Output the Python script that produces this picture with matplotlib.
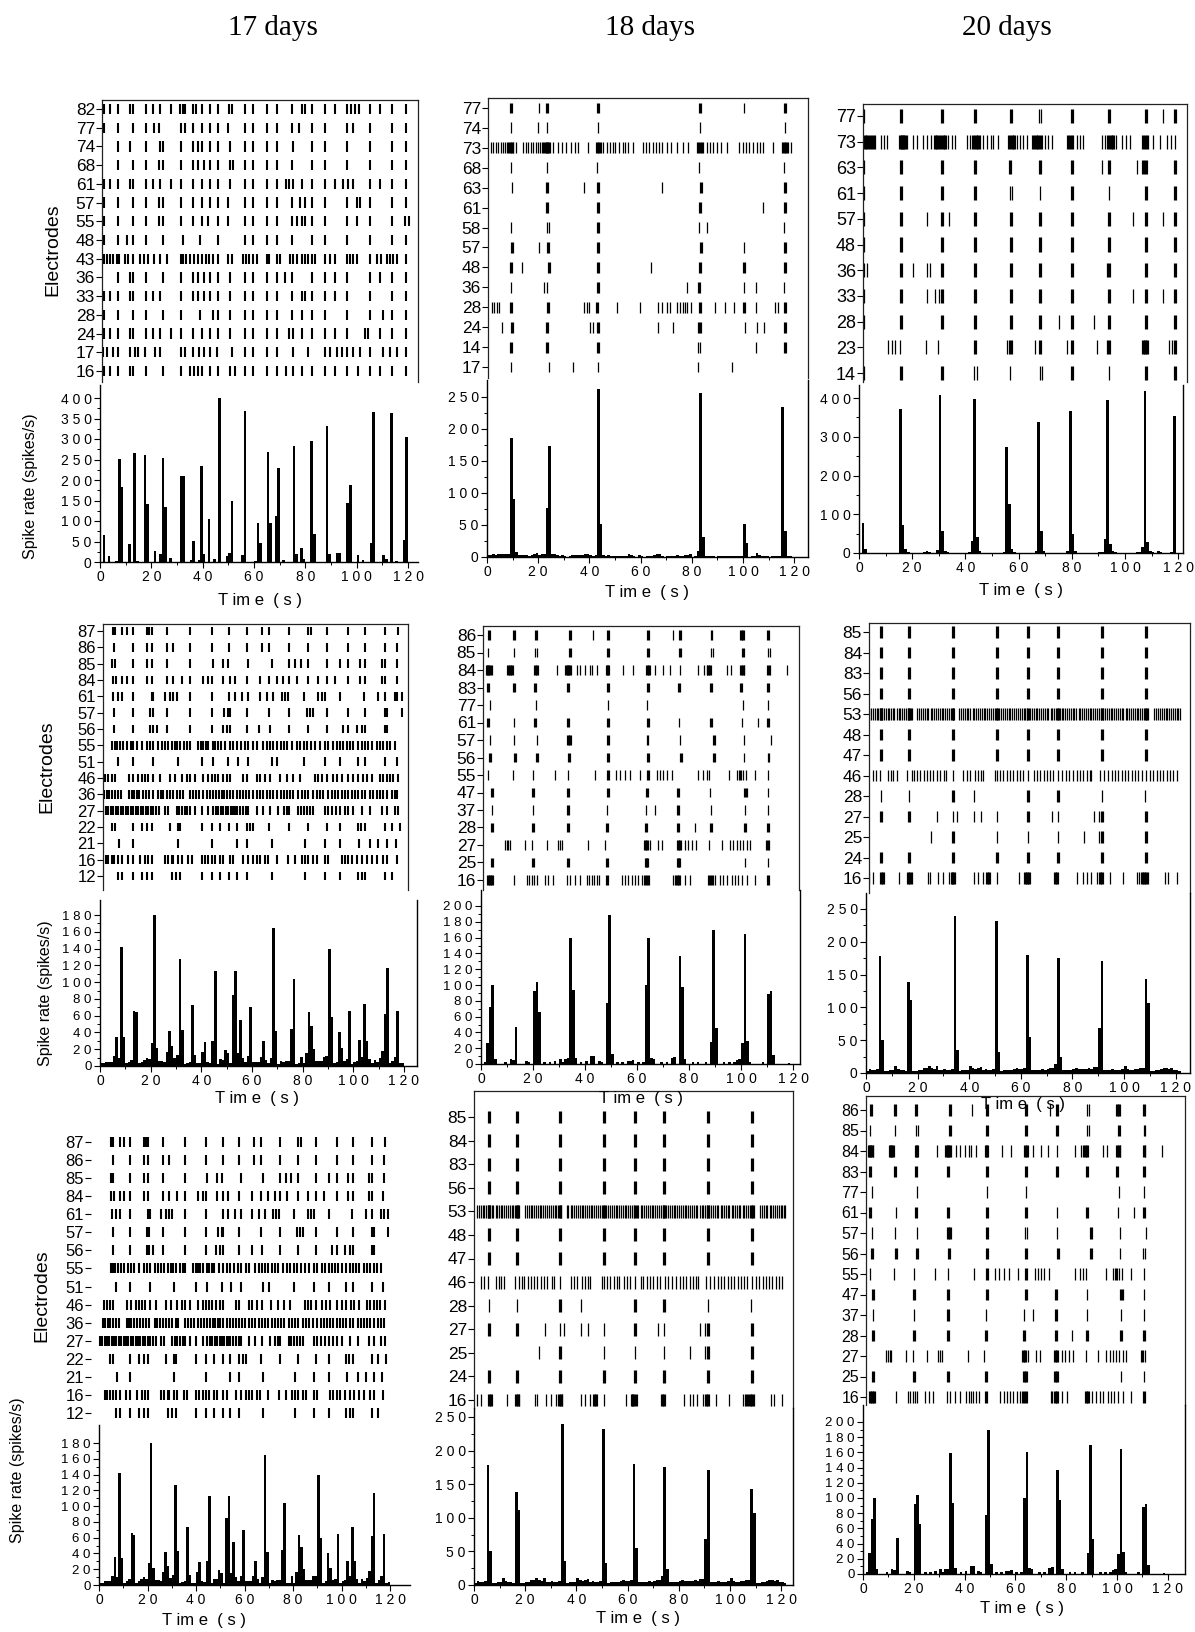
import matplotlib
matplotlib.use("Agg")
import matplotlib.pyplot as plt
import numpy as np
from matplotlib.ticker import MultipleLocator, FixedLocator, FuncFormatter

plt.rcParams["font.family"] = ["Liberation Sans", "DejaVu Sans"]

# ── Data ─────────────────────────────────────────────────────────────────────
days = ["17 days", "18 days", "20 days"]

# 17 days, culture A (all spikes drawn the same)
p1_labels = ["82", "77", "74", "68", "61", "57", "55", "48", "43", "36", "33", "28", "24", "17", "16"]
p1_spikes = [
    [1.7, 3.9, 7.1, 11.7, 12.7, 17.8, 20.8, 23.4, 27.7, 31.2, 32.2, 33.2, 36.1, 37.4, 39.6, 42.9, 46.1, 50.4, 51.4,
     56.5, 59.7, 64.9, 68.8, 74.7, 78.6, 79.9, 82.5, 87.7, 91.6, 96.1, 97.8, 99.4, 101.0, 105.2, 109.1, 113.6, 119.2],
    [1.6, 7.1, 13.0, 17.8, 21.2, 23.1, 31.6, 33.2, 36.1, 39.6, 42.9, 46.1, 49.7, 56.5, 59.7, 64.9, 68.8, 74.7, 77.7,
     82.5, 87.7, 96.1, 98.7, 105.2, 113.6, 119.2],
    [7.1, 11.7, 17.8, 23.4, 24.4, 31.6, 36.1, 38.3, 39.6, 42.9, 46.1, 50.6, 56.5, 59.7, 64.9, 68.8, 75.1, 82.5, 87.7,
     96.1, 105.2, 113.6, 119.2],
    [7.1, 13.0, 17.8, 23.1, 24.4, 31.6, 36.1, 38.3, 40.5, 42.9, 46.1, 50.6, 51.7, 56.5, 59.7, 64.9, 68.8, 74.7, 82.5,
     87.7, 96.1, 105.2, 113.6, 119.2],
    [1.7, 3.9, 7.1, 11.7, 13.0, 17.8, 20.8, 23.4, 27.7, 31.6, 36.1, 39.6, 42.9, 46.1, 50.6, 56.5, 59.7, 64.9, 68.8,
     72.5, 73.8, 75.1, 78.6, 82.5, 87.7, 91.6, 94.8, 96.8, 98.7, 105.2, 109.1, 113.6, 119.2],
    [1.6, 7.1, 13.0, 17.8, 23.1, 24.4, 31.6, 36.1, 39.6, 42.9, 46.1, 50.0, 56.5, 59.7, 64.9, 68.8, 74.7, 77.9, 79.9,
     82.5, 87.7, 96.1, 100.0, 101.3, 105.2, 113.6, 119.2],
    [1.6, 7.1, 13.0, 17.8, 23.1, 24.7, 31.6, 36.1, 39.6, 42.2, 46.1, 50.0, 56.5, 59.7, 64.9, 68.8, 74.7, 76.6, 78.6,
     79.9, 82.5, 87.7, 96.1, 100.0, 105.2, 113.6, 118.8, 120.5],
    [1.7, 7.1, 10.4, 13.0, 17.8, 24.7, 32.2, 39.0, 46.1, 56.5, 59.7, 64.9, 68.8, 74.7, 82.5, 87.7, 96.1, 105.2, 113.6,
     119.2],
    [1.6, 2.6, 3.9, 5.2, 6.5, 7.5, 9.7, 11.0, 12.7, 15.6, 17.1, 18.8, 21.2, 23.4, 26.0, 31.6, 32.5, 33.5, 35.1, 36.8,
     38.3, 39.6, 41.3, 42.6, 44.2, 46.1, 50.0, 51.3, 55.8, 56.9, 58.2, 59.7, 61.3, 64.9, 66.0, 68.8, 70.1, 74.0,
     75.1, 76.6, 78.6, 79.9, 81.2, 82.5, 83.8, 87.7, 89.6, 91.6, 96.1, 97.4, 98.7, 100.0, 105.2, 107.8, 109.5,
     111.7, 113.0, 114.3, 115.6, 119.2],
    [7.1, 11.7, 13.0, 17.8, 24.7, 31.6, 36.1, 38.3, 40.5, 42.9, 46.1, 50.6, 56.5, 59.7, 64.9, 68.8, 72.1, 74.7, 82.5,
     87.7, 91.6, 96.1, 105.2, 109.1, 113.6, 119.2],
    [1.6, 3.9, 7.1, 11.7, 13.0, 17.8, 20.8, 23.4, 31.6, 36.1, 38.3, 40.5, 42.9, 46.1, 50.6, 56.5, 59.7, 64.9, 68.8,
     74.7, 78.6, 79.9, 82.5, 87.7, 91.6, 96.1, 105.2, 113.6, 119.2],
    [1.6, 7.1, 13.0, 17.8, 24.7, 31.6, 39.0, 44.2, 46.1, 50.6, 56.5, 59.7, 64.9, 68.8, 74.7, 78.6, 82.5, 87.7, 96.1,
     105.2, 110.4, 113.6, 119.2],
    [1.6, 3.9, 7.1, 11.7, 13.0, 17.8, 20.8, 23.4, 27.7, 31.6, 36.1, 39.6, 42.9, 46.1, 50.6, 56.5, 59.7, 64.9, 68.8,
     73.8, 75.1, 78.6, 82.5, 87.7, 91.6, 96.1, 103.2, 104.5, 109.1, 113.6, 119.2],
    [1.3, 2.6, 5.2, 7.1, 11.7, 13.6, 14.9, 17.5, 21.4, 23.4, 31.6, 33.2, 36.1, 38.7, 40.5, 42.9, 45.5, 51.3, 56.5,
     59.7, 64.9, 68.8, 75.3, 81.2, 87.7, 89.6, 92.2, 94.2, 96.1, 98.7, 101.3, 105.2, 110.4, 113.0, 115.6, 119.2],
    [1.7, 3.9, 7.1, 11.7, 13.0, 17.8, 24.7, 31.6, 35.1, 36.8, 38.3, 39.6, 42.9, 46.1, 50.6, 52.6, 56.5, 59.7, 64.9,
     68.8, 72.5, 75.3, 78.6, 82.5, 87.7, 91.6, 96.1, 100.6, 105.2, 109.1, 113.6, 119.2],
]
p1_rate = [0, 67, 0, 14, 0, 0, 3, 251, 184, 0, 0, 43, 0, 267, 3, 0, 0, 261, 141, 0,
           0, 26, 0, 19, 254, 133, 0, 10, 0, 0, 0, 210, 210, 0, 0, 4, 51, 0, 4, 234,
           20, 0, 106, 0, 7, 0, 400, 0, 0, 15, 23, 149, 0, 0, 0, 16, 369, 0, 0, 0,
           3, 96, 47, 0, 0, 269, 94, 0, 113, 229, 0, 4, 0, 0, 0, 284, 20, 0, 33, 7,
           0, 0, 296, 69, 0, 0, 0, 0, 331, 20, 0, 0, 23, 23, 0, 0, 145, 189, 0, 0,
           16, 0, 4, 0, 0, 47, 366, 0, 0, 0, 18, 7, 0, 364, 0, 3, 0, 0, 53, 305, 0]

# 18 days, culture A
p2_labels = ["77", "74", "73", "68", "63", "61", "58", "57", "48", "36", "28", "24", "14", "17"]
p2_thick = [
    [9.4, 23.6, 43.5, 83.2, 116.4],
    [],
    [9.0, 9.6, 22.7, 23.3, 23.9, 43.1, 43.8, 83.2, 116.0, 116.8],
    [],
    [23.6, 43.5, 83.6, 116.4],
    [23.3, 43.5, 83.2, 116.4],
    [43.5],
    [9.6, 24.0, 43.5, 83.5, 116.4],
    [9.4, 24.2, 43.5, 83.2, 100.4, 116.4],
    [43.5, 82.9],
    [9.4, 24.0, 42.8, 83.2, 100.4, 116.4],
    [9.6, 23.6, 43.5, 83.2, 116.4],
    [9.4, 23.6, 43.5, 116.4],
    [],
]
p2_thin = [
    [20.3, 100.4],
    [9.4, 20.1, 23.6, 43.5, 83.2, 116.4],
    [1.6, 2.5, 3.5, 4.4, 5.5, 6.4, 7.0, 7.7, 8.3, 10.3, 11.3, 14.2, 15.2, 16.1, 17.1, 18.1, 19.0, 20.1, 20.7, 21.4,
     22.0, 24.6, 25.9, 27.9, 29.2, 30.9, 32.7, 34.4, 35.7, 39.6, 44.5, 45.4, 46.7, 48.0, 49.3, 50.0, 51.6, 53.0,
     53.9, 55.2, 57.2, 60.8, 62.1, 63.4, 65.0, 66.0, 67.3, 68.2, 70.2, 71.7, 74.3, 76.4, 78.6, 81.9, 82.6, 83.9,
     84.5, 85.8, 87.1, 88.4, 89.7, 91.4, 93.9, 98.6, 99.9, 101.2, 102.5, 103.8, 105.3, 106.6, 107.9, 111.8, 115.1,
     117.7, 118.8],
    [9.4, 23.6, 43.1, 82.9, 116.0],
    [9.9, 37.9, 68.2],
    [107.9],
    [9.4, 23.6, 24.4, 82.9, 85.8, 116.1],
    [20.3, 100.4],
    [13.5, 63.9],
    [9.4, 22.3, 23.3, 78.0, 100.5, 105.1, 116.1],
    [1.8, 2.7, 3.8, 4.8, 37.9, 38.9, 40.0, 50.9, 59.8, 66.7, 68.2, 70.2, 71.5, 74.3, 75.4, 76.4, 77.3, 78.3, 79.7,
     89.1, 93.0, 96.5, 105.1, 112.5, 113.8],
    [5.7, 40.2, 41.3, 66.9, 72.8, 82.3, 100.8, 105.3, 108.2],
    [82.3, 83.2, 105.1],
    [9.3, 24.2, 33.7, 43.5, 82.3, 95.6],
]
p2_rate = [3, 3, 4, 3, 4, 4, 4, 5, 4, 186, 91, 8, 3, 3, 3, 3, 2, 3, 5, 7,
           3, 4, 5, 76, 174, 5, 4, 3, 2, 3, 2, 0, 2, 3, 3, 3, 3, 3, 4, 4,
           3, 2, 3, 262, 52, 3, 2, 3, 2, 2, 2, 2, 2, 2, 2, 4, 3, 2, 0, 3,
           2, 0, 2, 2, 2, 3, 4, 5, 2, 0, 2, 2, 2, 2, 3, 2, 2, 3, 3, 4,
           0, 2, 10, 256, 31, 2, 2, 2, 2, 0, 2, 2, 2, 2, 2, 2, 2, 1, 2, 2,
           51, 22, 0, 2, 2, 6, 3, 2, 2, 1, 0, 2, 2, 2, 2, 235, 41, 2, 1, 0]

# 20 days, culture A
p3_labels = ["77", "73", "63", "61", "57", "48", "36", "33", "28", "23", "14"]
p3_bursts = [15.7, 31.1, 43.6, 57.0, 68.0, 80.0, 94.1, 107.9, 118.8]
p3_thick = [
    p3_bursts[:4] + p3_bursts[5:],
    [2.3, 3.1, 4.1, 5.1, 15.4, 16.0, 16.7, 17.3, 28.6, 29.4, 30.5, 31.5, 32.5, 43.0, 43.9, 44.9, 56.5, 57.4, 58.3,
     65.5, 66.4, 67.4, 68.3, 78.7, 79.6, 93.7, 94.6, 95.6, 106.9, 107.8],
    [15.7, 31.1, 43.6, 56.8, 68.0, 80.0, 94.1, 106.9, 107.9, 118.8],
    [15.7, 31.1, 43.6, 80.0, 107.9, 118.8],
    p3_bursts,
    p3_bursts,
    p3_bursts,
    p3_bursts,
    p3_bursts,
    [43.6, 57.0, 68.0, 80.0, 94.1, 106.9, 107.5, 108.1, 118.8],
    [15.7, 31.1, 80.0, 107.9, 118.8],
]
p3_thin = [
    [1.9, 67.7, 68.3, 114.2],
    [6.0, 8.1, 9.4, 10.4, 18.2, 20.4, 21.9, 24.2, 25.7, 26.9, 33.6, 34.8, 36.1, 40.5, 41.7, 45.5, 46.7, 48.2, 49.5,
     50.5, 52.4, 59.3, 60.5, 61.8, 63.0, 69.9, 71.2, 72.7, 80.6, 81.8, 83.1, 84.3, 91.2, 92.5, 96.6, 98.7, 100.4,
     101.9, 108.8, 110.7, 113.2, 115.7, 117.2, 118.8],
    [1.9, 91.2, 104.4],
    [1.9, 56.8, 57.4, 68.0, 94.1],
    [1.9, 25.7, 34.0, 103.1, 114.2],
    [1.9],
    [1.9, 2.9, 20.2, 25.7, 26.7, 93.4],
    [1.9, 25.7, 28.6, 30.2, 103.1, 114.2],
    [1.9, 75.3, 88.3],
    [11.0, 12.3, 13.5, 15.4, 25.2, 29.8, 55.5, 56.5, 66.2, 78.1, 89.3, 93.1, 116.7, 117.5],
    [1.9, 43.2, 44.2, 56.8, 68.0, 68.9, 94.1],
]
p3_rate = [0, 77, 10, 1, 1, 0, 0, 0, 1, 1, 1, 0, 1, 1, 0, 372, 73, 10, 3, 1,
           1, 0, 1, 1, 3, 5, 3, 1, 1, 8, 409, 58, 5, 2, 1, 1, 1, 0, 1, 1,
           1, 2, 30, 397, 42, 5, 1, 1, 0, 1, 1, 0, 1, 1, 3, 274, 127, 10, 3, 1,
           1, 0, 1, 1, 1, 1, 5, 337, 56, 5, 1, 1, 1, 0, 1, 1, 1, 1, 5, 367,
           49, 5, 1, 1, 1, 0, 1, 1, 1, 1, 2, 3, 37, 394, 23, 5, 2, 1, 1, 0,
           1, 1, 1, 1, 2, 3, 15, 419, 28, 5, 2, 1, 5, 3, 1, 1, 1, 3, 353, 1, 0]

# 17 days, culture B (also bottom-left)
p4_labels = ["87", "86", "85", "84", "61", "57", "56", "55", "51", "46", "36", "27", "22", "21", "16", "12"]
p4_spikes = [
    [5.0, 5.9, 8.6, 10.5, 12.9, 18.4, 19.5, 20.4, 26.3, 35.5, 44.1, 51.1, 57.9, 63.8, 66.8, 74.7, 82.2, 83.2, 89.5,
     98.0, 104.6, 112.5, 117.8],
    [5.7, 12.9, 18.4, 20.4, 26.3, 28.9, 35.5, 44.1, 51.1, 57.9, 63.8, 66.8, 74.7, 82.2, 89.5, 98.0, 104.6, 112.5,
     117.4],
    [4.9, 5.9, 12.9, 18.4, 20.4, 26.3, 35.5, 44.7, 48.7, 50.7, 58.6, 67.8, 74.7, 77.0, 79.3, 82.2, 89.5, 94.7, 98.0,
     102.6, 104.6, 111.2, 112.5, 117.4],
    [5.0, 6.3, 8.6, 10.5, 12.9, 18.4, 20.4, 26.3, 28.9, 32.2, 35.5, 40.8, 42.8, 44.1, 48.7, 51.3, 53.3, 57.9, 63.2,
     66.8, 69.7, 72.4, 74.7, 77.6, 82.2, 86.2, 89.5, 92.8, 98.0, 102.6, 104.6, 111.2, 112.5, 117.1],
    [5.3, 7.2, 8.6, 12.9, 20.4, 21.1, 25.7, 27.6, 28.9, 30.3, 35.5, 44.1, 51.1, 53.3, 55.9, 58.6, 63.2, 65.8, 68.4,
     71.7, 73.0, 74.3, 80.5, 86.2, 87.5, 88.8, 94.7, 104.3, 109.9, 112.5, 116.4, 117.4, 119.1],
    [5.7, 12.9, 19.7, 20.8, 26.3, 35.5, 44.1, 48.9, 50.7, 51.3, 57.9, 66.8, 74.7, 81.8, 82.9, 84.2, 89.5, 98.0,
     104.6, 112.5, 113.2, 119.1],
    [5.7, 12.9, 19.7, 20.8, 22.4, 26.3, 35.5, 44.1, 48.4, 50.0, 51.3, 57.9, 62.9, 67.1, 74.7, 82.2, 89.5, 96.1,
     98.0, 101.3, 103.3, 104.6, 112.5, 113.2],
    [4.9, 5.9, 6.8, 7.9, 9.2, 10.5, 12.1, 13.2, 14.5, 16.4, 18.4, 19.7, 21.1, 23.0, 24.3, 25.7, 27.0, 28.3, 29.6,
     30.5, 31.6, 33.2, 34.5, 35.5, 38.8, 39.9, 40.8, 41.8, 42.8, 44.5, 45.4, 46.7, 47.6, 49.3, 51.3, 52.6, 53.9,
     55.5, 57.2, 58.6, 60.5, 61.8, 64.5, 65.8, 67.1, 68.4, 69.7, 71.3, 72.6, 73.9, 75.7, 77.6, 78.9, 80.5, 81.8,
     83.2, 84.9, 86.8, 88.8, 90.1, 92.1, 93.4, 94.7, 96.1, 97.4, 98.7, 100.0, 102.0, 103.3, 104.6, 105.9, 107.2,
     109.2, 110.5, 111.8, 113.2, 114.5, 116.4],
    [7.2, 12.9, 21.1, 30.9, 40.1, 44.7, 50.7, 54.6, 58.6, 67.8, 70.0, 80.5, 88.8, 94.7, 102.0, 104.6, 112.5, 117.1],
    [2.0, 3.3, 4.6, 5.9, 11.6, 13.2, 15.1, 16.4, 17.8, 19.1, 21.1, 23.7, 27.6, 29.6, 32.2, 34.2, 35.5, 37.5, 40.8,
     42.8, 44.1, 45.4, 46.7, 48.4, 50.0, 51.3, 56.3, 57.9, 61.8, 63.2, 65.1, 67.1, 71.1, 73.7, 76.3, 78.9, 84.9,
     86.2, 87.5, 89.5, 92.1, 93.7, 95.4, 98.0, 100.0, 102.0, 103.9, 105.3, 107.2, 110.5, 111.8, 113.2, 114.5,
     115.8, 117.8],
    [1.6, 2.6, 3.7, 4.6, 5.9, 7.2, 8.2, 11.6, 12.5, 13.4, 14.5, 15.5, 16.8, 18.2, 19.5, 20.8, 23.0, 23.9, 25.0,
     26.3, 27.6, 28.9, 30.3, 31.6, 32.6, 35.5, 36.6, 37.9, 39.2, 40.8, 42.1, 43.4, 44.7, 45.8, 47.1, 48.0, 48.9,
     50.0, 51.3, 52.6, 53.9, 55.3, 56.3, 57.6, 58.9, 60.3, 61.8, 63.2, 64.5, 65.8, 67.1, 68.4, 69.7, 71.3, 72.6,
     73.7, 75.0, 76.3, 78.3, 79.6, 80.9, 82.2, 84.2, 85.5, 86.8, 88.2, 90.1, 91.4, 92.8, 94.1, 95.4, 96.7, 98.0,
     99.3, 100.7, 102.0, 103.3, 104.6, 106.6, 107.9, 109.2, 110.5, 111.8, 113.2, 115.1, 116.4, 117.4],
    [0.3, 1.3, 2.4, 3.3, 4.3, 5.3, 6.3, 7.2, 8.2, 9.2, 10.3, 11.2, 12.1, 13.2, 14.2, 15.1, 16.2, 17.1, 18.2, 19.1,
     20.0, 21.1, 22.1, 23.4, 25.7, 27.0, 30.3, 31.3, 32.2, 33.6, 34.5, 35.5, 37.5, 40.1, 42.8, 44.7, 45.8, 46.7,
     47.8, 48.7, 49.7, 50.7, 51.7, 52.6, 53.3, 54.2, 55.3, 56.3, 57.6, 58.6, 61.8, 64.5, 67.1, 70.4, 72.6, 73.7,
     74.7, 78.3, 79.3, 80.5, 81.6, 82.9, 84.2, 88.8, 90.1, 91.4, 93.2, 94.7, 96.7, 98.0, 100.0, 103.3, 106.6,
     111.2, 113.2, 116.4, 117.8],
    [4.6, 5.9, 12.9, 16.4, 18.4, 20.4, 27.6, 30.9, 31.6, 40.1, 44.1, 47.4, 51.1, 53.9, 57.9, 59.2, 60.5, 66.8, 74.7,
     82.2, 89.5, 94.7, 102.0, 102.9, 104.6, 112.5, 115.1, 118.4],
    [7.6, 12.9, 30.9, 44.1, 53.9, 57.9, 67.8, 80.9, 88.8, 94.7, 102.4, 106.6, 109.9, 113.2, 116.8],
    [2.4, 3.3, 4.6, 5.7, 7.2, 8.6, 11.2, 12.9, 15.8, 17.8, 19.1, 20.4, 25.7, 27.0, 28.3, 28.9, 30.9, 32.2, 34.9,
     36.2, 40.1, 41.4, 42.8, 44.1, 45.4, 47.4, 48.7, 51.3, 52.6, 56.6, 58.6, 60.5, 61.8, 63.2, 65.1, 66.4, 69.7,
     74.3, 77.0, 79.6, 80.9, 82.2, 84.2, 85.5, 88.8, 90.1, 95.4, 96.7, 98.0, 99.3, 101.3, 103.3, 105.3, 107.2,
     109.2, 111.8, 113.2, 117.1],
    [7.2, 8.6, 12.9, 16.4, 18.4, 20.4, 28.3, 30.0, 31.6, 40.1, 44.1, 47.4, 51.1, 53.9, 57.9, 67.8, 80.9, 88.8, 94.7,
     102.0, 103.3, 104.6, 112.5, 115.1],
]
p4_rate = [3, 3, 5, 5, 5, 12, 35, 10, 142, 34, 3, 5, 7, 66, 64, 3, 5, 7, 10, 8,
           28, 180, 22, 6, 6, 5, 17, 42, 24, 9, 13, 127, 43, 2, 4, 5, 73, 13, 3, 3,
           17, 29, 5, 4, 30, 113, 2, 8, 7, 19, 15, 3, 85, 113, 15, 55, 10, 5, 12, 70,
           5, 5, 5, 11, 30, 7, 3, 10, 165, 42, 2, 6, 5, 6, 6, 44, 104, 2, 3, 11,
           3, 16, 64, 48, 20, 6, 6, 6, 11, 12, 140, 59, 3, 5, 40, 22, 6, 8, 65, 2,
           5, 6, 31, 11, 74, 30, 8, 3, 7, 5, 9, 18, 62, 117, 3, 6, 11, 65, 3, 4, 0]

# 18 days, culture B (also bottom-right)
p5_labels = ["86", "85", "84", "83", "77", "61", "57", "56", "55", "47", "37", "28", "27", "25", "16"]
p5_thick = [
    [3.2, 12.7, 21.0, 34.2, 48.7, 64.1, 76.5, 100.0, 100.9, 110.5],
    [34.2, 48.7, 64.1, 76.5, 100.9],
    [2.2, 2.8, 3.5, 10.5, 11.2, 11.8, 20.8, 21.4, 32.7, 33.3, 34.0, 48.3, 49.0, 63.7, 64.5, 87.4, 88.1, 100.0,
     100.6, 110.5],
    [2.8, 12.7, 20.8, 33.6, 49.0, 64.1, 76.3, 88.3, 100.0, 110.5],
    [],
    [2.8, 20.8, 33.6, 48.7, 64.1, 88.3, 110.5],
    [33.6, 34.2, 48.7, 89.6],
    [3.5, 13.1, 21.4, 34.0, 49.0, 64.1, 76.8, 89.6],
    [48.7, 64.1, 99.6],
    [4.1, 20.1, 33.6, 48.7, 64.0, 75.9, 101.5],
    [33.6, 75.9],
    [4.1, 19.9, 33.6, 48.3, 63.3, 75.9, 88.3, 101.5, 110.5],
    [63.1, 63.7, 75.6, 76.5, 109.9],
    [4.1, 19.9, 33.6, 48.3, 63.3, 64.0, 75.6, 76.3],
    [2.6, 3.5, 4.4, 48.3, 63.1, 64.1, 75.5, 76.3, 87.8, 88.7, 110.5],
]
p5_thin = [
    [42.9, 73.7, 88.3, 89.0],
    [2.8, 12.7, 20.8, 21.5, 88.3, 89.1, 110.5, 111.2],
    [4.1, 29.1, 34.6, 36.8, 38.1, 40.0, 41.9, 42.6, 44.5, 54.7, 58.3, 66.9, 69.9, 72.7, 76.5, 83.3, 85.9, 86.8,
     94.5, 96.2, 101.0, 111.2, 117.6],
    [],
    [3.5, 21.2, 48.7, 64.0, 100.9, 110.5],
    [12.8, 76.3, 100.3, 106.7],
    [3.5, 12.7, 21.4, 63.7, 64.4, 76.5, 101.2, 111.4],
    [101.2, 110.3, 110.9],
    [2.8, 12.4, 20.1, 28.5, 33.6, 43.8, 51.9, 53.5, 55.4, 57.3, 61.2, 67.6, 68.8, 70.1, 71.4, 73.3, 83.6, 85.5,
     86.8, 87.8, 95.5, 98.6, 100.6, 101.9, 105.4, 110.5],
    [88.1, 102.2, 110.5],
    [4.1, 19.9, 48.3, 63.3, 66.9, 88.3, 101.5, 110.5],
    [82.3],
    [9.2, 9.9, 10.5, 11.2, 16.9, 19.5, 25.3, 29.7, 30.4, 31.0, 41.3, 47.7, 65.0, 68.2, 69.5, 78.5, 79.7, 81.0,
     82.6, 87.8, 92.6, 95.8, 97.1, 98.3, 99.6, 100.9, 102.2, 103.5, 110.9],
    [101.5, 110.5],
    [12.8, 17.6, 18.6, 19.5, 20.4, 21.4, 24.6, 25.9, 27.6, 32.9, 34.2, 36.2, 38.1, 40.6, 41.7, 42.6, 43.5, 44.5,
     45.5, 54.1, 55.4, 56.7, 57.9, 59.2, 60.5, 61.8, 74.0, 74.6, 78.5, 80.4, 90.0, 91.9, 93.2, 94.5, 96.4, 97.7,
     99.0, 100.3, 102.2, 105.4],
]
p5_rate = [0, 2, 27, 72, 100, 6, 0, 0, 0, 2, 0, 6, 5, 47, 0, 0, 0, 4, 2, 0,
           92, 104, 66, 0, 2, 0, 3, 0, 4, 0, 6, 3, 6, 7, 159, 94, 8, 0, 2, 0,
           4, 0, 10, 10, 0, 4, 3, 0, 77, 189, 13, 0, 2, 0, 3, 0, 4, 4, 5, 0,
           3, 0, 3, 100, 160, 8, 6, 0, 0, 2, 0, 3, 0, 8, 9, 0, 137, 98, 6, 0,
           0, 2, 0, 3, 0, 0, 3, 0, 28, 170, 46, 0, 0, 3, 0, 3, 0, 3, 5, 6,
           26, 165, 29, 2, 0, 0, 0, 0, 2, 0, 88, 92, 12, 0, 0, 0, 0, 0, 1, 0, 0]

# 20 days, culture B (also bottom-middle)
p6_labels = ["85", "84", "83", "56", "53", "48", "47", "46", "28", "27", "25", "24", "16"]
p6_bursts = [5.8, 16.8, 33.6, 50.6, 62.7, 74.3, 91.3, 108.6]
p6_row53 = [1.3, 2.0, 2.7, 3.5, 4.1, 4.7, 5.5, 5.8, 6.2, 7.0, 7.6, 8.4, 8.9, 9.7, 10.4, 11.0, 11.9, 12.6, 13.2,
            13.9, 14.7, 15.4, 16.1, 16.8, 17.3, 17.7,
            19.9, 20.6, 21.4, 22.1, 22.7, 23.5, 24.2, 25.1, 25.7, 26.3, 27.1, 27.9, 28.6, 29.3, 29.9, 30.7, 31.5,
            32.2, 32.9, 33.6, 33.9,
            36.2, 36.9, 37.7, 38.4, 39.1, 39.7, 40.5, 41.3, 42.0, 42.7, 43.3, 44.1, 45.0, 45.6, 46.2, 47.0, 47.7,
            48.6, 49.2, 49.9, 50.6,
            51.5, 52.4, 53.0, 53.8, 54.5, 55.4, 56.0, 56.7, 57.5, 58.1, 58.9, 59.5, 60.3, 61.1, 61.8, 62.5,
            63.5, 64.2, 65.1, 65.7, 66.4, 67.2, 67.8, 68.6, 69.4, 70.0, 70.7, 71.6, 72.2, 72.9, 73.7, 74.3, 75.1,
            75.9, 76.5, 77.2, 78.0, 78.7, 79.4, 80.2, 80.8, 81.5, 82.4, 83.0, 83.7, 84.5, 85.2, 85.9, 86.7, 87.3,
            88.1, 88.9, 89.5, 90.2, 90.9, 91.7, 92.6, 93.3, 94.1, 94.8, 95.5, 96.3, 96.9, 97.6, 98.5, 99.1, 99.8,
            100.6, 101.2, 102.0, 102.8, 103.4, 104.1, 105.0, 105.6, 106.3, 107.1, 107.7, 108.5, 109.2,
            111.8, 112.5, 113.3, 113.9, 114.6, 115.5, 116.1, 116.8, 117.6, 118.3, 119.0, 119.8, 120.4, 121.1, 121.6]
p6_thick = [
    p6_bursts, p6_bursts, p6_bursts, p6_bursts,
    p6_bursts,
    p6_bursts, p6_bursts,
    [],
    [33.6, 62.7, 74.3],
    [5.8, 16.8, 62.7, 91.3, 108.6],
    [33.6, 91.3, 108.6],
    p6_bursts,
    [5.7, 6.5, 16.4, 17.0, 33.2, 33.8, 47.0, 47.8, 61.7, 62.3, 63.1, 73.3, 74.2, 90.7, 91.3, 106.8, 107.7, 108.6],
]
p6_thin = [
    [], [], [], [],
    p6_row53,
    [], [],
    [2.9, 3.9, 5.5, 8.7, 9.6, 10.6, 11.9, 16.0, 17.7, 18.6, 19.6, 20.9, 22.3, 23.5, 24.8, 26.1, 27.4, 28.7, 30.3,
     31.2, 33.6, 37.7, 39.0, 40.3, 42.3, 43.5, 44.4, 45.5, 50.0, 50.6, 52.0, 53.2, 54.5, 55.8, 56.8, 58.4, 59.7,
     60.9, 62.7, 65.1, 66.2, 67.4, 68.8, 70.0, 71.3, 72.6, 74.5, 75.9, 77.5, 78.8, 80.3, 81.7, 83.0, 84.2, 85.6,
     86.8, 87.4, 90.7, 92.3, 93.9, 95.3, 96.5, 97.8, 99.1, 100.4, 101.7, 103.0, 104.2, 105.6, 106.8, 108.6,
     110.1, 111.3, 112.7, 113.9, 115.3, 116.5, 117.8, 119.1, 120.4],
    [5.8, 16.8, 41.7, 91.3, 108.2],
    [27.7, 33.6, 35.2, 41.9, 44.5, 50.6, 72.0, 74.3, 88.4, 90.4],
    [25.2, 50.6, 62.9, 74.3, 84.5, 90.4],
    [],
    [1.3, 2.9, 12.9, 17.7, 23.9, 24.8, 28.0, 30.0, 32.0, 34.5, 41.7, 43.5, 45.5, 50.6, 59.4, 81.9, 84.2, 85.6, 87.1,
     89.4, 94.5, 99.7, 104.9, 105.9, 109.4, 115.9, 117.2, 120.4],
]
p6_rate = [3, 6, 5, 5, 6, 179, 51, 3, 3, 4, 5, 10, 6, 5, 4, 3, 139, 111, 3, 3,
           4, 4, 8, 8, 10, 7, 6, 10, 5, 5, 6, 4, 5, 6, 240, 35, 3, 4, 5, 5,
           10, 7, 6, 8, 9, 5, 6, 5, 5, 6, 232, 32, 3, 5, 5, 5, 5, 6, 7, 6,
           6, 8, 180, 55, 4, 5, 5, 5, 6, 5, 6, 7, 8, 13, 176, 24, 4, 4, 5, 5,
           6, 8, 6, 6, 6, 6, 7, 6, 9, 9, 68, 171, 4, 5, 5, 6, 5, 5, 5, 6,
           11, 6, 5, 5, 6, 6, 7, 8, 143, 107, 3, 3, 4, 5, 6, 7, 8, 6, 7, 5, 4, 3]

# ── Layout helpers (pixel coordinates of the 1195 x 1632 canvas) ─────────────
W, H = 1195, 1632
fig = plt.figure(figsize=(W / 100, H / 100), dpi=100)


def rect(l, t, r, b):
    return [l / W, 1 - b / H, (r - l) / W, (b - t) / H]


def spaced(v, pos=None):
    return " ".join(str(int(round(v))))


def draw_raster(px, labels, thin, thick, rows_px, x0, xs, fs, frame=True,
                lw_thin=0.9, lw_thick=2.3, ll=0.55):
    l, t, r, b = px
    ax = fig.add_axes(rect(l, t, r, b))
    n = len(labels)
    r0, r1 = rows_px
    s = (r1 - r0) / (n - 1)
    ax.set_ylim(n - 1 + (b - r1) / s, -(r0 - t) / s)
    ax.set_xlim((l - x0) / xs, (r - x0) / xs)
    for i in range(n):
        if thin[i]:
            ax.eventplot(thin[i], lineoffsets=i, linelengths=ll, linewidths=lw_thin, colors="black")
        if thick is not None and thick[i]:
            ax.eventplot(thick[i], lineoffsets=i, linelengths=ll, linewidths=lw_thick, colors="black")
    ax.set_yticks(range(n))
    ax.set_yticklabels(labels, fontsize=fs)
    ax.set_xticks([])
    ax.tick_params(axis="y", direction="out", length=4, width=0.8, pad=1)
    ax.spines["bottom"].set_visible(False)
    for side in ("left", "top", "right"):
        ax.spines[side].set_linewidth(0.9)
        ax.spines[side].set_color("#222222")
        ax.spines[side].set_visible(frame)
    ax.patch.set_alpha(0)
    return ax


def draw_hist(px, rates, x0, xs, ytick_px, ytick_val, major, minor, top_label,
              yfs=10, xfs=10, right=True):
    l, t, r, b = px
    ax = fig.add_axes(rect(l, t, r, b))
    ax.bar(np.arange(len(rates)), rates, width=1.0, align="edge", color="black", linewidth=0)
    ax.set_xlim((l - x0) / xs, (r - x0) / xs)
    ys = (b - ytick_px) / ytick_val
    ax.set_ylim(0, (b - t) / ys)
    ax.yaxis.set_major_locator(FixedLocator(np.arange(0, top_label + 1, major)))
    ax.yaxis.set_minor_locator(FixedLocator(np.arange(0, top_label + 1, minor)))
    ax.xaxis.set_major_locator(FixedLocator(np.arange(0, 121, 20)))
    ax.xaxis.set_minor_locator(MultipleLocator(10))
    ax.yaxis.set_major_formatter(FuncFormatter(spaced))
    ax.xaxis.set_major_formatter(FuncFormatter(spaced))
    ax.tick_params(axis="y", which="major", direction="out", length=4, width=0.8, labelsize=yfs, pad=2)
    ax.tick_params(axis="x", which="major", direction="out", length=4, width=0.8, labelsize=xfs, pad=2)
    ax.tick_params(which="minor", direction="out", length=2.5, width=0.7)
    ax.spines["top"].set_visible(False)
    ax.spines["right"].set_visible(right)
    for side in ("left", "bottom", "right"):
        ax.spines[side].set_linewidth(1.0)
    ax.patch.set_alpha(0)
    return ax


def ftext(x, y, s, **kw):
    fig.text(x / W, 1 - y / H, s, ha="center", va="center", **kw)


# ── Column titles ────────────────────────────────────────────────────────────
for x, d in zip([273, 650, 1007], days):
    ftext(x, 28, d, fontsize=21, family=["Liberation Serif", "DejaVu Serif"])

# ── Row 1 ────────────────────────────────────────────────────────────────────
draw_raster((102, 100, 418, 382), p1_labels, p1_spikes, None, (109, 371), 100, 2.567, 12.5, lw_thin=1.5)
draw_hist((100, 385, 418, 562), p1_rate, 100, 2.567, 398, 400, 50, 25, 400, right=False)

draw_raster((488, 98, 808, 378), p2_labels, p2_thin, p2_thick, (108, 367), 487, 2.56, 12.5)
draw_hist((487, 380, 808, 557), p2_rate, 487, 2.56, 397, 250, 50, 25, 250)

draw_raster((863, 104, 1187, 382), p3_labels, p3_thin, p3_thick, (116, 373), 859, 2.66, 13)
draw_hist((859, 385, 1183, 553), p3_rate, 859, 2.66, 398, 400, 100, 50, 400)

# ── Row 2 ────────────────────────────────────────────────────────────────────
draw_raster((103, 624, 408, 890), p4_labels, p4_spikes, None, (631, 876), 100, 2.533, 12, lw_thin=1.5)
draw_hist((100, 900, 417, 1066), p4_rate, 100, 2.533, 915, 180, 20, 10, 180, yfs=9.5)

draw_raster((483, 626, 799, 890), p5_labels, p5_thin, p5_thick, (635, 880), 481, 2.6, 12.5)
draw_hist((481, 890, 800, 1064), p5_rate, 481, 2.6, 906, 200, 20, 10, 200, yfs=9.5)

draw_raster((869, 623, 1190, 893), p6_labels, p6_thin, p6_thick, (632, 878), 866, 2.58, 12.5)
draw_hist((866, 893, 1190, 1073), p6_rate, 866, 2.58, 909, 250, 50, 25, 250)

# ── Row 3 (repeats of row 2 cultures) ────────────────────────────────────────
draw_raster((91, 1130, 406, 1420), p4_labels, p4_spikes, None, (1142, 1413), 99, 2.425, 12, frame=False, lw_thin=1.5)
draw_hist((99, 1425, 410, 1585), p4_rate, 99, 2.425, 1443, 180, 20, 10, 180, yfs=9.5, right=False)

draw_raster((474, 1091, 793, 1408), p6_labels, p6_thin, p6_thick, (1117, 1400), 474, 2.56, 12.5)
draw_hist((474, 1408, 793, 1585), p6_rate, 474, 2.56, 1417, 250, 50, 25, 250)

draw_raster((866, 1096, 1185, 1405), p5_labels, p5_thin, p5_thick, (1110, 1397), 863, 2.54, 11.5)
draw_hist((863, 1405, 1185, 1574), p5_rate, 863, 2.54, 1422, 200, 20, 10, 200, yfs=9.5)

# ── Axis labels ──────────────────────────────────────────────────────────────
for x, y in [(53, 250), (47, 767), (42, 1296)]:
    ftext(x, y, "Electrodes", fontsize=14, rotation=90)
for x, y in [(31, 486), (46, 993), (18, 1470)]:
    ftext(x, y, "Spike rate (spikes/s)", fontsize=11.5, rotation=90)
for x, y in [(260, 600), (647, 593), (1021, 591), (257, 1098), (641, 1098), (1023, 1105),
             (204, 1620), (638, 1618), (1022, 1608)]:
    ftext(x, y, "T im e  ( s )", fontsize=12)

fig.savefig("out.png", dpi=100)
